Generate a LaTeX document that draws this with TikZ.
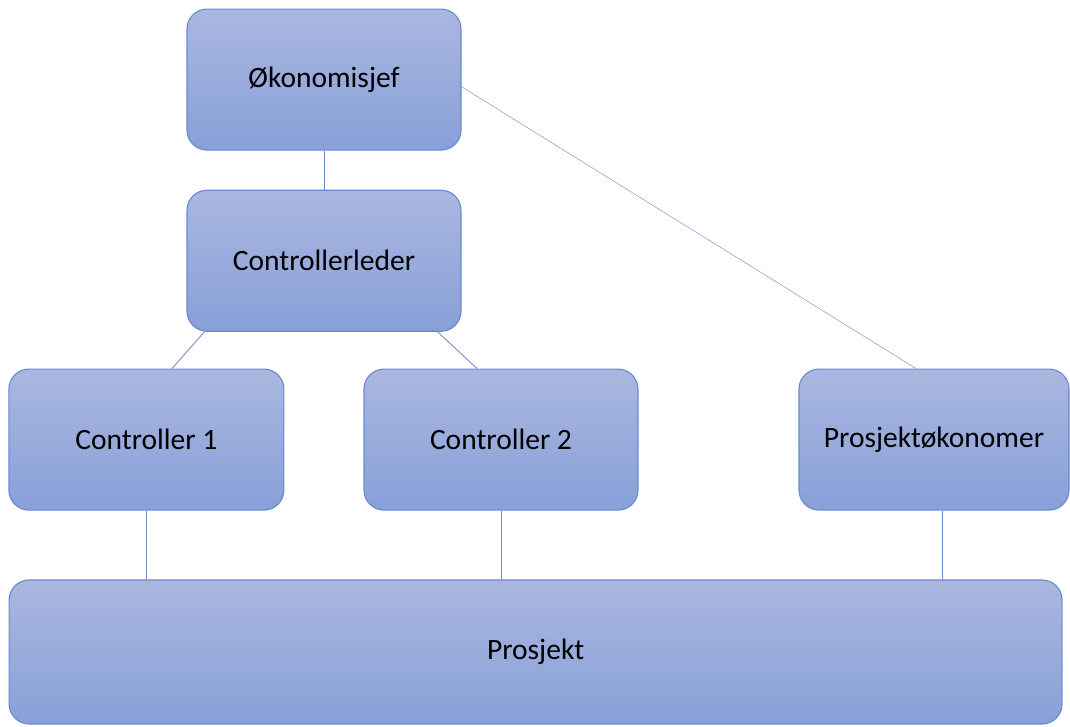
\documentclass[tikz,border=0pt]{standalone}
\usepackage{fontspec}
\setmainfont{Carlito}
\usetikzlibrary{positioning}
\usetikzlibrary{calc}
\definecolor{boxtop}{HTML}{AAB7E0}
\definecolor{boxbottom}{HTML}{88A0D8}
\definecolor{boxline}{HTML}{6A8BCC}
\tikzset{org box/.style={
          draw=boxline,
          line width=0.8pt,
          rounded corners=0.5cm,
          top color=boxtop,
          bottom color=boxbottom,
          minimum width=6.85cm,
          minimum height=3.525cm,
          font=\fontsize{21}{24}\selectfont,
          anchor=center
          },
        org line/.style={
          draw=boxline,
          line width=0.6pt
          },
}
\begin{document}
\begin{tikzpicture}
      % \draw[help lines, dashed] grid (27, 19);
      \useasboundingbox (0,0) rectangle (26.75,18.15);
      % TOP OF THE CHART
      \node[org box] (okonomisjef) at (8.1,16.16) {Økonomisjef};
      \node[org box, below=0.975cm of okonomisjef] (controllerleder) {Controllerleder};

      % CONTROLLERS AND PROJECT ECONOMIST
      \node[org box, minimum width=6.875cm] (controller1) at (3.66,7.16) {Controller 1};
      \node[org box] (controller2) at (12.525,7.16) {Controller 2};
      \node[org box, minimum width=6.75cm] (prosjektokonom) at (23.35,7.16) {Prosjektøkonomer};

      % PROJECT
      \node[org box, minimum width=26.325cm, minimum height=3.6cm] (prosjekt) at (13.39,1.85) {Prosjekt};

      % WIRING
      \draw[org line] (okonomisjef.south) -- (controllerleder.north);
      \draw[org line] ([xshift=0.45cm]controllerleder.south west) -- ([xshift=0.64cm]controller1.north);
      \draw[org line] ([xshift=-0.6cm]controllerleder.south east) -- ([xshift=-0.6cm]controller2.north);
      \draw[org line, line width=0.3pt] ([yshift=-0.18cm]okonomisjef.east) -- ([xshift=-0.45cm]prosjektokonom.north);
      % down to the project
      \draw[org line] (controller1.south) -- (controller1.south |- prosjekt.north);
      \draw[org line] (controller2.south) -- (controller2.south |- prosjekt.north);
      \draw[org line] ([xshift=0.2cm]prosjektokonom.south) -- ([xshift=0.2cm]prosjektokonom.south |- prosjekt.north);
\end{tikzpicture}
\end{document}
